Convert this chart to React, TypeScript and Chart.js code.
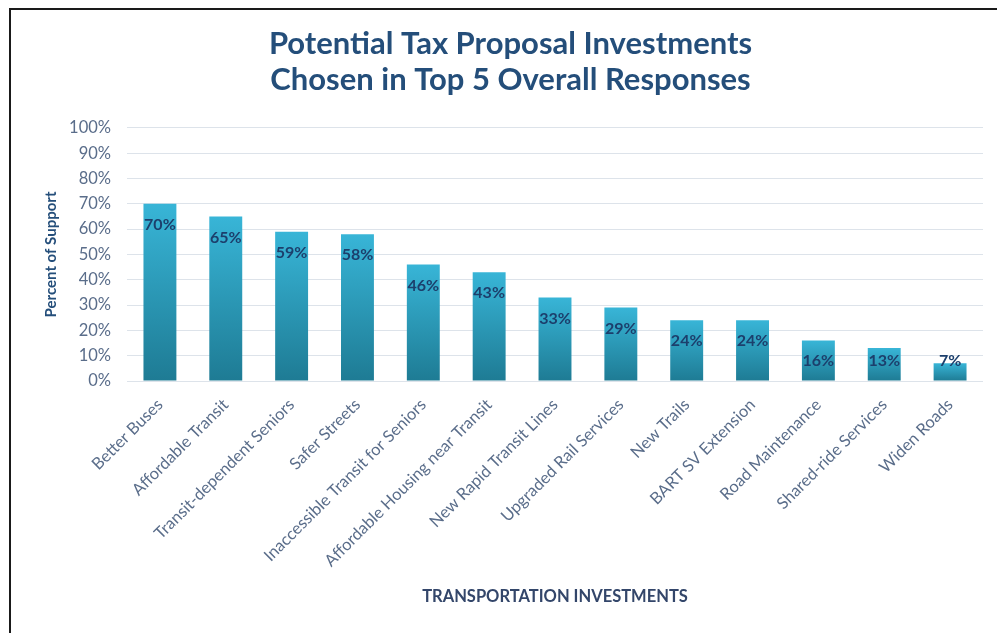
import { useEffect, useRef } from "react";
import { Chart, registerables } from "chart.js";

Chart.register(...registerables);

const categories = [
  "Better Buses",
  "Affordable Transit",
  "Transit-dependent Seniors",
  "Safer Streets",
  "Inaccessible Transit for Seniors",
  "Affordable Housing near Transit",
  "New Rapid Transit Lines",
  "Upgraded Rail Services",
  "New Trails",
  "BART SV Extension",
  "Road Maintenance",
  "Shared-ride Services",
  "Widen Roads",
];

const supportValues = [70, 65, 59, 58, 46, 43, 33, 29, 24, 24, 16, 13, 7];

const titleLines = ["Potential Tax Proposal Investments", "Chosen in Top 5 Overall Responses"];
const yAxisTitle = "Percent of Support";
const xAxisTitle = "TRANSPORTATION INVESTMENTS";
const yMin = 0;
const yMax = 100;
const yStep = 10;

export default function App() {
  const canvasRef = useRef<HTMLCanvasElement>(null);

  useEffect(() => {
    if (!canvasRef.current) return;

    const labelPlugin = {
      id: "barValueLabels",
      afterDatasetsDraw(chart: any) {
        const ctx = chart.ctx;
        const meta = chart.getDatasetMeta(0);
        const base = chart.scales.y.getPixelForValue(0);
        ctx.save();
        ctx.font = 'bold 16px "Lato"';
        ctx.fillStyle = "#1C3F6C";
        ctx.textAlign = "center";
        ctx.textBaseline = "middle";
        meta.data.forEach((bar: any, i: number) => {
          const y = Math.min(bar.y + 21, base - 20);
          ctx.fillText(supportValues[i] + "%", bar.x, y);
        });
        ctx.restore();
      },
    };

    const chart = new Chart(canvasRef.current, {
      type: "bar",
      data: {
        labels: categories,
        datasets: [
          {
            data: supportValues,
            backgroundColor: (c: any) => {
              const chart = c.chart;
              const { ctx, chartArea, scales } = chart;
              if (!chartArea || c.type !== "data" || !scales.y) return "#2A9BBD";
              const v = supportValues[c.dataIndex];
              const top = scales.y.getPixelForValue(v);
              const bottom = scales.y.getPixelForValue(0);
              const g = ctx.createLinearGradient(0, top, 0, bottom);
              g.addColorStop(0, "#38B5D7");
              g.addColorStop(1, "#1E7B94");
              return g;
            },
            borderWidth: 0,
            categoryPercentage: 1,
            barPercentage: 0.5,
          },
        ],
      },
      options: {
        animation: false,
        responsive: false,
        maintainAspectRatio: false,
        layout: { padding: { left: 38, right: 14, top: 0, bottom: 22 } },
        plugins: {
          legend: { display: false },
          tooltip: { enabled: false },
          title: {
            display: true,
            text: titleLines,
            color: "#244E7A",
            font: { family: "Lato", size: 31, weight: "bold", lineHeight: 1.16 },
            padding: { top: 26, bottom: 30 },
          },
        },
        scales: {
          x: {
            grid: { display: false, drawTicks: false },
            border: { display: false },
            ticks: {
              color: "#5A6D8A",
              font: { family: "Lato", size: 16.5 },
              maxRotation: 45,
              minRotation: 45,
              autoSkip: false,
              padding: 14,
            },
            title: {
              display: true,
              text: xAxisTitle,
              color: "#33466A",
              font: { family: "Lato", size: 16.5, weight: "bold" },
              padding: { top: 4, bottom: 4 },
            },
            afterFit: (scale: any) => {
              scale.height = 230;
            },
          },
          y: {
            min: yMin,
            max: yMax,
            grid: { color: "#DDE3EA", lineWidth: 1, drawTicks: false },
            border: { display: false },
            ticks: {
              stepSize: yStep,
              color: "#5A6D8A",
              font: { family: "Lato", size: 16.5 },
              padding: 16,
              callback: (v: any) => v + "%",
            },
            title: {
              display: true,
              text: yAxisTitle,
              color: "#244E7A",
              font: { family: "Lato", size: 15, weight: "bold" },
              padding: { top: 4, bottom: 4 },
            },
            afterFit: (scale: any) => {
              scale.width = 89;
            },
          },
        },
      },
      plugins: [labelPlugin],
    });

    return () => chart.destroy();
  }, []);

  return (
    <div
      style={{
        position: "fixed",
        left: 0,
        top: 0,
        width: 997,
        height: 633,
        background: "#ffffff",
        overflow: "hidden",
      }}
    >
      <canvas
        ref={canvasRef}
        width={997}
        height={633}
        style={{ position: "absolute", left: 0, top: 0, width: 997, height: 633 }}
      />
      <div
        style={{
          position: "absolute",
          left: 9,
          top: 8,
          right: 0,
          bottom: 0,
          borderTop: "2px solid #1a1a1a",
          borderLeft: "2px solid #1a1a1a",
          pointerEvents: "none",
        }}
      />
    </div>
  );
}
